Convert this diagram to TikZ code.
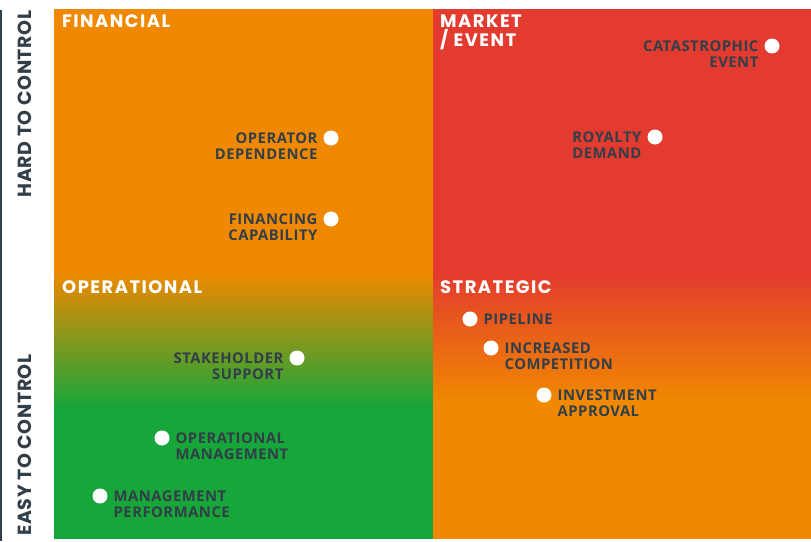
\documentclass[tikz,border=0pt]{standalone}
\usepackage{fontspec}
\setmainfont{Open Sans}
\newfontfamily\labelfont[LetterSpace=3.5]{Open Sans}
\newfontfamily\headfont[LetterSpace=8]{Poppins}
\newfontfamily\axisfont[LetterSpace=3]{Poppins}
\usetikzlibrary{positioning}
\definecolor{my_orange}{RGB}{240, 137, 0}
\definecolor{my_red}{RGB}{227, 59, 47}
\definecolor{my_green}{RGB}{22, 166, 58}
\definecolor{my_slate}{RGB}{50, 62, 72}
\tikzset {
  dot/.style = {circle, fill=white, inner sep=0pt, minimum size=15pt},
  risk/.style = {font=\labelfont\fontsize{14.8}{16}\selectfont\bfseries, text=my_slate, inner sep=0pt, yshift=-0.5pt},
  lrisk/.style = {risk, align=right, anchor=north east},
  rrisk/.style = {risk, align=left, anchor=north west},
  head/.style = {font=\headfont\fontsize{18}{19}\selectfont\bfseries, text=white, align=left, anchor=north west, inner sep=0pt},
  axis/.style = {font=\axisfont\fontsize{19}{20}\selectfont\bfseries, text=my_slate, rotate=90, inner sep=0pt}
}

\begin{document}
\begin{tikzpicture}[x=1pt, y=-1pt]
    \useasboundingbox (0,0) rectangle (811,541);

    % quadrants
    \fill[my_orange] (54,9) rectangle (433,272);
    \shade[top color=my_orange, bottom color=my_green] (54,272) rectangle (433,408);
    \fill[my_green] (54,408) rectangle (433,539);
    \fill[my_red] (433,9) rectangle (811,272);
    \shade[top color=my_red, bottom color=my_orange] (433,272) rectangle (811,402);
    \fill[my_orange] (433,402) rectangle (811,539);

    % axis
    \draw[my_slate, line width=1.5pt] (1,10) -- (1,541);
    \node[axis] (hard) at (25,104) {HARD TO CONTROL};
    \node[axis] (easy) at (25,445) {EASY TO CONTROL};

    % quadrant titles
    \node[head] (financial) at (62,15) {FINANCIAL};
    \node[head] (market) at (440,15) {MARKET\\/ EVENT};
    \node[head] (operational) at (62,280) {OPERATIONAL};
    \node[head] (strategic) at (440,280) {STRATEGIC};

    % risks
    \node[dot] (opdep) at (331,138) {};
    \node[left=8pt of opdep.north west, lrisk] (opdept) {OPERATOR\\DEPENDENCE};
    \node[dot] (fincap) at (331,219) {};
    \node[left=8pt of fincap.north west, lrisk] (fincapt) {FINANCING\\CAPABILITY};
    \node[dot] (cat) at (772,46) {};
    \node[left=8pt of cat.north west, lrisk] (catt) {CATASTROPHIC\\EVENT};
    \node[dot] (roy) at (655,137) {};
    \node[left=8pt of roy.north west, lrisk] (royt) {ROYALTY\\DEMAND};
    \node[dot] (stake) at (297,358) {};
    \node[left=8pt of stake.north west, lrisk] (staket) {STAKEHOLDER\\SUPPORT};
    \node[dot] (opman) at (162,438) {};
    \node[right=8pt of opman.north east, rrisk] (opmant) {OPERATIONAL\\MANAGEMENT};
    \node[dot] (manperf) at (100,496) {};
    \node[right=8pt of manperf.north east, rrisk] (manperft) {MANAGEMENT\\PERFORMANCE};
    \node[dot] (pipe) at (470,319) {};
    \node[right=8pt of pipe.north east, rrisk] (pipet) {PIPELINE};
    \node[dot] (comp) at (491,348) {};
    \node[right=8pt of comp.north east, rrisk] (compt) {INCREASED\\COMPETITION};
    \node[dot] (invest) at (544,395) {};
    \node[right=8pt of invest.north east, rrisk] (investt) {INVESTMENT\\APPROVAL};

  \end{tikzpicture}
\end{document}
